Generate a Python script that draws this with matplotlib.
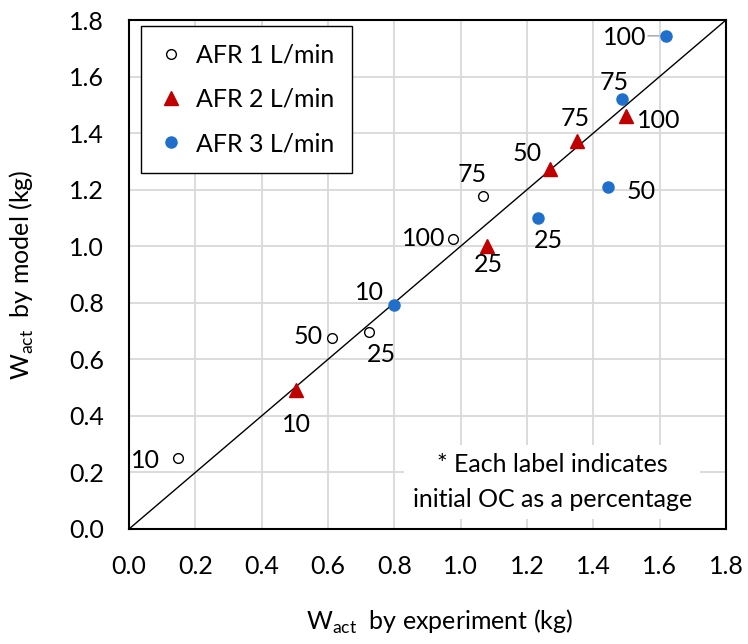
import numpy as np
import matplotlib
matplotlib.use('Agg')
import matplotlib.pyplot as plt

# Data set (W_act: experiment vs model, kg) ; labels = initial OC (%)
oc_labels = ['10', '25', '50', '75', '100']

afr1_exp = [0.147, 0.725, 0.611, 1.066, 0.978]
afr1_mod = [0.250, 0.696, 0.676, 1.176, 1.026]

afr2_exp = [0.505, 1.078, 1.268, 1.350, 1.499]
afr2_mod = [0.490, 1.000, 1.273, 1.371, 1.459]

afr3_exp = [0.798, 1.233, 1.444, 1.487, 1.619]
afr3_mod = [0.792, 1.100, 1.210, 1.520, 1.744]

ticks = [0.0, 0.2, 0.4, 0.6, 0.8, 1.0, 1.2, 1.4, 1.6, 1.8]

# label offsets in pixels (dx, dy) for each point
off1 = [(-32, -2), (12, -22), (-24, 1), (-10, 22), (-30, 0)]
off2 = [(0, -34), (2, -18), (-22, 16), (-2, 23), (33, -4)]
off3 = [(-24, 13), (10, -23), (33, -5), (-8, 17), (-41, -2)]

# Parameter
F = 18
plt.rcParams['font.family'] = ['Lato', 'DejaVu Sans']
plt.rcParams['mathtext.fontset'] = 'custom'
plt.rcParams['mathtext.rm'] = 'Lato'

fig = plt.figure(figsize=(7.48, 6.44), dpi=100)
ax = fig.add_axes([129/748, 1 - 529/644, 597/748, 509/644])

ax.plot([0, 1.8], [0, 1.8], color='black', lw=1.0, zorder=2)

ax.plot(afr1_exp, afr1_mod, 'o', ms=7, mfc='white', mec='black', mew=1.0,
        ls='none', label='AFR 1 L/min', zorder=3)
ax.plot(afr2_exp, afr2_mod, '^', ms=10, color='#C00000',
        ls='none', label='AFR 2 L/min', zorder=3)
ax.plot(afr3_exp, afr3_mod, 'o', ms=8, color='#1F6FCB',
        ls='none', label='AFR 3 L/min', zorder=3)

for xs, ys, offs in [(afr1_exp, afr1_mod, off1), (afr2_exp, afr2_mod, off2),
                     (afr3_exp, afr3_mod, off3)]:
    for x, y, lab, o in zip(xs, ys, oc_labels, offs):
        ax.annotate(lab, (x, y), xytext=o, textcoords='offset pixels',
                    ha='center', va='center', fontsize=F, zorder=4)

# leader line for AFR 3 / 100
ax.annotate('', (afr3_exp[4], afr3_mod[4]), xytext=(-18, 0),
            textcoords='offset pixels',
            arrowprops=dict(arrowstyle='-', color='#A0A0A0', lw=1.0,
                            shrinkA=0, shrinkB=5))

ax.text(0.709, 0.092, '* Each label indicates\ninitial OC as a percentage',
        transform=ax.transAxes, ha='center', va='center', fontsize=F,
        linespacing=1.6, zorder=5,
        bbox=dict(facecolor='white', edgecolor='none', pad=6))

ax.set_xlim(0, 1.8)
ax.set_ylim(0, 1.8)
ax.set_xticks(ticks)
ax.set_yticks(ticks)
ax.set_xticklabels(['%.1f' % t for t in ticks])
ax.set_yticklabels(['%.1f' % t for t in ticks])
ax.tick_params(axis='x', length=0, pad=19, labelsize=F)
ax.tick_params(axis='y', length=0, pad=18, labelsize=F)
ax.grid(True, color='#D9D9D9', lw=1.3)
ax.set_axisbelow(True)
for s in ax.spines.values():
    s.set_linewidth(1.5)
    s.set_color('black')

ax.set_xlabel(r'W$_{\mathrm{act}}$  by experiment (kg)', fontsize=F)
ax.set_ylabel(r'W$_{\mathrm{act}}$  by model (kg)', fontsize=F)
ax.xaxis.set_label_coords(0.52, -0.155)
ax.yaxis.set_label_coords(-0.155, 0.5)

leg = ax.legend(loc='upper left', bbox_to_anchor=(0.020, 0.988),
                borderaxespad=0, fontsize=F, frameon=True, fancybox=False,
                framealpha=1, edgecolor='black', handlelength=1.0,
                handletextpad=0.5, labelspacing=0.85, borderpad=0.7)
leg.get_frame().set_linewidth(1.0)

plt.savefig('out.png', dpi=100)
plt.close()
